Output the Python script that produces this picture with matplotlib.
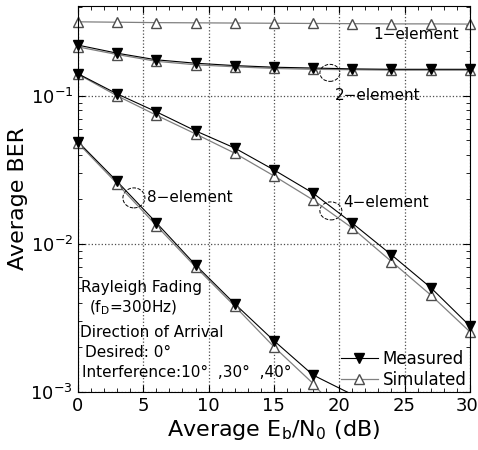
import numpy as np
import matplotlib.pyplot as plt
from matplotlib.patches import Ellipse
from matplotlib.ticker import MultipleLocator, LogLocator, NullFormatter, FuncFormatter

snr = [0, 3, 6, 9, 12, 15, 18, 21, 24, 27, 30]

sim_1 = [0.316, 0.314, 0.312, 0.311, 0.310, 0.309, 0.308, 0.307, 0.306, 0.306, 0.305]

meas_2 = [0.220, 0.194, 0.175, 0.166, 0.160, 0.156, 0.154, 0.152, 0.151, 0.151, 0.151]
sim_2 = [0.214, 0.190, 0.171, 0.162, 0.157, 0.153, 0.151, 0.150, 0.149, 0.149, 0.149]

meas_4 = [0.141, 0.103, 0.078, 0.058, 0.0444, 0.0316, 0.0220, 0.0138, 0.00843, 0.00507, 0.00279]
sim_4 = [0.140, 0.100, 0.074, 0.0553, 0.041, 0.0288, 0.0198, 0.0128, 0.0076, 0.00452, 0.00255]

snr_8 = [0, 3, 6, 9, 12, 15, 18, 21]
meas_8 = [0.049, 0.0264, 0.0139, 0.00721, 0.00394, 0.00222, 0.00130, 0.00096]
sim_8 = [0.048, 0.0255, 0.0133, 0.0070, 0.0038, 0.00202, 0.00114, 0.00057]

fig = plt.figure(figsize=(4.78, 4.5), dpi=100)
ax = fig.add_axes([0.163, 0.129, 0.820, 0.858])

sim_style = dict(color='0.5', lw=0.9, marker='^', mfc='white', mec='0.3', ms=7.5)
meas_style = dict(color='black', lw=0.8, marker='v', mfc='black', mec='black', ms=7.5)

ax.plot(snr, sim_1, clip_on=False, **sim_style)
ax.plot(snr, sim_2, clip_on=False, **sim_style)
ax.plot(snr, sim_4, clip_on=False, **sim_style)
ax.plot(snr, meas_2, clip_on=False, **meas_style)
ax.plot(snr, meas_4, clip_on=False, **meas_style)

# 8-element: lines run below the axis, markers only where visible
ax.plot(snr_8, sim_8, color='0.5', lw=0.9)
ax.plot(snr_8, meas_8, color='black', lw=0.8)
ax.plot(snr_8[:7], sim_8[:7], ls='none', clip_on=False,
        **{k: v for k, v in sim_style.items() if k not in ('color', 'lw')})
ax.plot(snr_8[:7], meas_8[:7], ls='none', clip_on=False,
        **{k: v for k, v in meas_style.items() if k not in ('color', 'lw')})

ax.set_yscale('log')
ax.set_xlim(0, 30)
ax.set_ylim(1e-3, 0.405)
ax.xaxis.set_major_locator(MultipleLocator(5))
ax.xaxis.set_minor_locator(MultipleLocator(1))
# the "30" label is drawn by hand below so it stays inside the figure
ax.xaxis.set_major_formatter(FuncFormatter(lambda v, p: '' if v >= 30 else f'{v:g}'))
ax.yaxis.set_major_locator(LogLocator(base=10, numticks=10))
ax.yaxis.set_minor_locator(LogLocator(base=10, subs=np.arange(2, 10), numticks=20))
ax.yaxis.set_minor_formatter(NullFormatter())
ax.tick_params(which='both', direction='in', top=True, right=True, labelsize=13)
ax.tick_params(which='major', length=5)
ax.tick_params(which='minor', length=3)
ax.grid(True, which='major', linestyle=':', color='0.3', lw=0.9)
ax.annotate('30', xy=(30, 0), xycoords=('data', 'axes fraction'), xytext=(-2, -3.5),
            textcoords='offset points', ha='center', va='top', fontsize=13,
            annotation_clip=False)

ax.set_xlabel('Average E$_\\mathrm{b}$/N$_\\mathrm{0}$ (dB)', fontsize=16, labelpad=2)
ax.set_ylabel('Average BER', fontsize=16, labelpad=2)

fs = 11
ax.text(22.6, 0.258, '1\u2212element', fontsize=fs, va='center')
ax.text(19.7, 0.100, '2\u2212element', fontsize=fs, va='center')
ax.text(5.3, 0.0205, '8\u2212element', fontsize=fs, va='center')
ax.text(20.3, 0.0189, '4\u2212element', fontsize=fs, va='center')

# small loops that mark the curve pairs
for (px, py, w, h) in [(330, 73, 20, 17), (134, 198, 22, 20), (331, 211, 22, 18)]:
    ax.add_patch(Ellipse(((px - 78) / 392, (392 - py) / 386), w / 392, h / 386,
                         transform=ax.transAxes, fill=False, ls='--', lw=0.7, color='black'))

def note(px, py, s):
    ax.text((px - 78) / 392, (392 - py) / 386, s, transform=ax.transAxes,
            fontsize=fs, va='center', ha='left')

note(81, 288, 'Rayleigh Fading')
note(89, 308, '(f$_\\mathrm{D}$=300Hz)')
note(80, 333, 'Direction of Arrival')
note(85, 353, 'Desired: 0\u00b0')
note(82, 373, 'Interference:10\u00b0  ,30\u00b0  ,40\u00b0')

ax.plot([], [], label='Measured', **meas_style)
ax.plot([], [], label='Simulated', **sim_style)
h, l = ax.get_legend_handles_labels()
ax.legend(h, l, loc='lower right', bbox_to_anchor=(1.0, 0.0), frameon=False, fontsize=12,
          handlelength=2.2, handletextpad=0.3, borderaxespad=0.1, labelspacing=0.15,
          borderpad=0.1)

fig.savefig('out.png', dpi=100)
